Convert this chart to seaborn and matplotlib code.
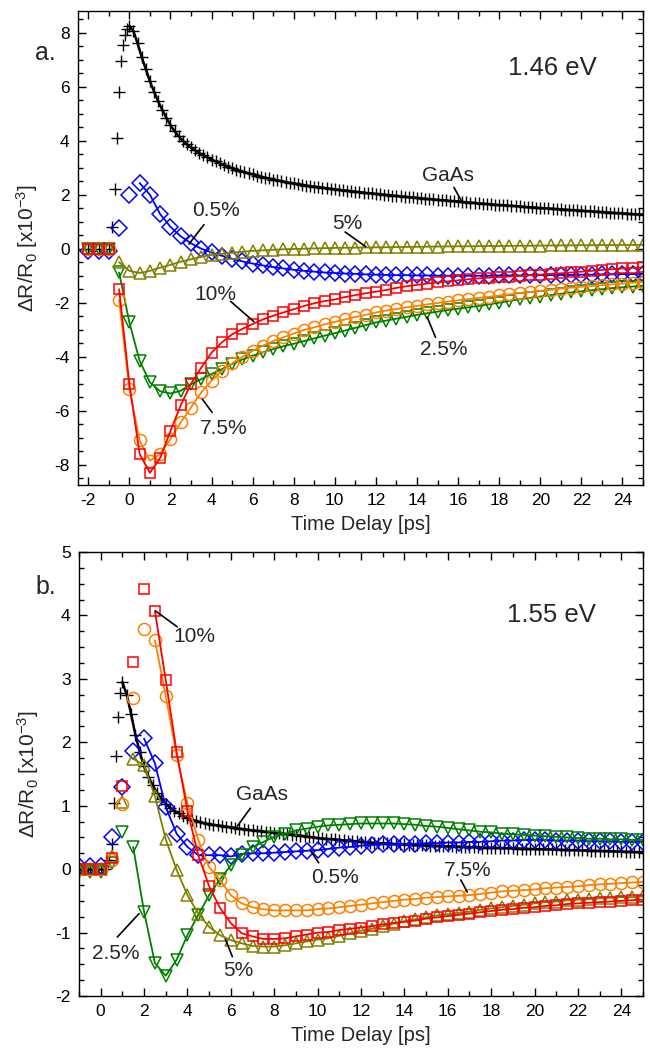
import numpy as np
import matplotlib
matplotlib.use("Agg")
import matplotlib.pyplot as plt
from matplotlib.ticker import MultipleLocator
import seaborn as sns

# ---------------- data : panel a (1.46 eV) ----------------
# colour-coded samples, one point every 0.5 ps from -2 ps
a_start, a_step = -2.0, 0.5
a_red = [0.0, 0.0, 0.0, -1.5, -5.0, -7.6, -8.3, -7.75, -6.75, -5.8, -5.0, -4.4, -3.85, -3.47,
         -3.17, -2.97, -2.79, -2.62, -2.48, -2.36, -2.24, -2.12, -2.02, -1.94, -1.88, -1.79,
         -1.72, -1.65, -1.59, -1.53, -1.45, -1.39, -1.34, -1.29, -1.25, -1.21, -1.17, -1.13,
         -1.10, -1.07, -1.05, -1.03, -1.01, -0.98, -0.96, -0.93, -0.91, -0.88, -0.85, -0.82,
         -0.79, -0.76, -0.73, -0.71, -0.69]
a_orange = [0.0, 0.0, 0.0, -1.9, -5.2, -7.1, -7.85, -7.6, -7.05, -6.43, -5.88, -5.32, -4.89,
            -4.52, -4.25, -4.0, -3.78, -3.59, -3.42, -3.28, -3.14, -3.01, -2.91, -2.80, -2.71,
            -2.62, -2.53, -2.45, -2.36, -2.29, -2.23, -2.17, -2.12, -2.06, -2.01, -1.96, -1.91,
            -1.87, -1.82, -1.78, -1.73, -1.69, -1.64, -1.60, -1.56, -1.52, -1.48, -1.44, -1.41,
            -1.38, -1.35, -1.32, -1.29, -1.26, -1.23]
a_green = [0.0, 0.0, 0.0, -0.88, -2.73, -4.15, -4.95, -5.28, -5.36, -5.26, -5.02, -4.83, -4.64,
           -4.46, -4.27, -4.10, -3.96, -3.84, -3.72, -3.61, -3.52, -3.42, -3.32, -3.22, -3.13,
           -3.03, -2.93, -2.83, -2.73, -2.66, -2.59, -2.52, -2.45, -2.39, -2.33, -2.27, -2.22,
           -2.17, -2.12, -2.06, -2.0, -1.93, -1.87, -1.82, -1.77, -1.72, -1.67, -1.62, -1.58,
           -1.54, -1.50, -1.46, -1.43, -1.40, -1.37]
a_olive = [0.02, 0.02, 0.02, -0.5, -0.82, -0.9, -0.82, -0.7, -0.6, -0.48, -0.39, -0.3, -0.23,
           -0.19, -0.15, -0.11, -0.08, -0.06, -0.04, -0.02, -0.01, 0.0, 0.01, 0.02, 0.03,
           0.035, 0.04, 0.045, 0.05, 0.055, 0.06, 0.065, 0.07, 0.075, 0.08, 0.085, 0.09, 0.09,
           0.095, 0.10, 0.10, 0.105, 0.11, 0.11, 0.115, 0.12, 0.12, 0.125, 0.13, 0.13, 0.135,
           0.135, 0.14, 0.14, 0.145]
a_blue = [-0.08, -0.1, -0.08, 0.75, 2.0, 2.43, 2.0, 1.28, 0.81, 0.46, 0.2, 0.0, -0.14, -0.26,
          -0.37, -0.47, -0.55, -0.62, -0.68, -0.73, -0.78, -0.82, -0.85, -0.88, -0.90, -0.92,
          -0.93, -0.95, -0.96, -0.97, -0.98, -0.98, -0.99, -0.99, -1.0, -1.0, -1.0, -1.0, -1.0,
          -1.0, -0.99, -0.99, -0.99, -0.98, -0.98, -0.98, -0.97, -0.97, -0.96, -0.96, -0.95,
          -0.95, -0.94, -0.94, -0.93]

# GaAs reference: rise (irregular delays) then decay sampled every 0.2 ps from 0 ps
a_gaas_rise_t = [-2.0, -1.5, -1.0, -0.85, -0.7, -0.6, -0.5, -0.4, -0.3, -0.2, -0.1]
a_gaas_rise = [0.0, 0.0, 0.0, 0.8, 2.2, 4.1, 5.8, 6.95, 7.55, 7.9, 8.15]
a_gaas_decay = [8.25, 8.05, 7.60, 7.10, 6.65, 6.20, 5.82, 5.46, 5.14, 4.85,
                4.58, 4.35, 4.16, 4.00, 3.86, 3.75, 3.64, 3.54, 3.46, 3.38,
                3.30, 3.23, 3.16, 3.10, 3.04, 2.98, 2.93, 2.88, 2.83, 2.79,
                2.75, 2.71, 2.67, 2.63, 2.60, 2.56, 2.53, 2.50, 2.47, 2.44,
                2.42, 2.39, 2.37, 2.34, 2.32, 2.30, 2.28, 2.26, 2.24, 2.22,
                2.20, 2.18, 2.16, 2.15, 2.13, 2.11, 2.10, 2.08, 2.06, 2.05,
                2.03, 2.02, 2.00, 1.99, 1.97, 1.96, 1.94, 1.93, 1.91, 1.90,
                1.88, 1.87, 1.85, 1.84, 1.83, 1.81, 1.80, 1.79, 1.77, 1.76,
                1.75, 1.73, 1.72, 1.71, 1.70, 1.68, 1.67, 1.66, 1.65, 1.63,
                1.62, 1.61, 1.60, 1.59, 1.58, 1.57, 1.55, 1.54, 1.53, 1.52,
                1.51, 1.50, 1.49, 1.48, 1.47, 1.46, 1.45, 1.44, 1.43, 1.42,
                1.41, 1.40, 1.39, 1.38, 1.37, 1.36, 1.35, 1.34, 1.33, 1.32,
                1.31, 1.30, 1.29, 1.28, 1.27, 1.26]

# ---------------- data : panel b (1.55 eV) ----------------
b_start, b_step = -1.0, 0.5
b_red = [0.0, 0.0, 0.0, 0.18, 1.31, 3.27, 4.42, 4.07, 2.98, 1.85, 0.92, 0.22, -0.27, -0.61,
         -0.85, -1.01, -1.06, -1.10, -1.10, -1.09, -1.06, -1.03, -1.0, -0.99, -0.96, -0.94,
         -0.92, -0.90, -0.87, -0.85, -0.83, -0.81, -0.78, -0.76, -0.74, -0.72, -0.70, -0.68,
         -0.66, -0.64, -0.63, -0.61, -0.60, -0.58, -0.57, -0.55, -0.54, -0.53, -0.52, -0.51,
         -0.50, -0.49, -0.48]
b_orange = [0.0, 0.0, 0.0, 0.14, 1.03, 2.70, 3.79, 3.61, 2.73, 1.80, 1.04, 0.46, 0.03, -0.17,
            -0.41, -0.54, -0.60, -0.63, -0.65, -0.65, -0.65, -0.65, -0.63, -0.62, -0.60, -0.58,
            -0.56, -0.54, -0.52, -0.50, -0.48, -0.47, -0.45, -0.44, -0.43, -0.42, -0.41, -0.39,
            -0.37, -0.35, -0.34, -0.33, -0.32, -0.30, -0.29, -0.28, -0.27, -0.25, -0.24, -0.23,
            -0.22, -0.21, -0.20]
b_green = [-0.05, -0.05, -0.05, 0.1, 0.58, 0.35, -0.67, -1.48, -1.68, -1.43, -1.04, -0.72,
           -0.41, -0.16, 0.06, 0.22, 0.35, 0.43, 0.51, 0.56, 0.61, 0.64, 0.67, 0.69, 0.70,
           0.71, 0.72, 0.72, 0.72, 0.72, 0.71, 0.70, 0.68, 0.67, 0.65, 0.63, 0.61, 0.59, 0.58,
           0.56, 0.55, 0.54, 0.53, 0.52, 0.51, 0.50, 0.49, 0.48, 0.48, 0.47, 0.47, 0.46, 0.46]
b_olive = [0.0, 0.0, 0.0, 0.2, 1.06, 1.74, 1.64, 1.15, 0.47, -0.01, -0.41, -0.70, -0.91, -1.04,
           -1.12, -1.17, -1.21, -1.22, -1.22, -1.20, -1.17, -1.14, -1.11, -1.09, -1.05, -1.01,
           -0.97, -0.94, -0.90, -0.86, -0.82, -0.79, -0.76, -0.73, -0.71, -0.69, -0.67, -0.64,
           -0.62, -0.60, -0.58, -0.56, -0.54, -0.52, -0.51, -0.49, -0.48, -0.47, -0.46, -0.45,
           -0.44, -0.44, -0.43]
b_blue = [0.05, 0.05, 0.05, 0.51, 1.30, 1.87, 2.06, 1.67, 0.98, 0.56, 0.35, 0.22, 0.22, 0.22,
          0.20, 0.24, 0.25, 0.25, 0.26, 0.27, 0.28, 0.29, 0.30, 0.32, 0.34, 0.35, 0.37, 0.38,
          0.39, 0.39, 0.40, 0.40, 0.41, 0.41, 0.42, 0.42, 0.43, 0.43, 0.44, 0.45, 0.45, 0.46,
          0.46, 0.46, 0.45, 0.45, 0.45, 0.44, 0.44, 0.44, 0.43, 0.43, 0.43]

b_gaas_rise_t = [-1.0, -0.9, -0.8, -0.7, -0.6, -0.5, -0.4, -0.3, -0.2, -0.1, 0.0, 0.1, 0.2,
                 0.3, 0.4, 0.5, 0.6, 0.7, 0.8, 0.9]
b_gaas_rise = [0.0, 0.0, 0.0, 0.0, 0.0, 0.0, 0.0, 0.0, 0.0, 0.0, 0.0, 0.0, 0.0,
               0.05, 0.15, 0.4, 1.05, 1.78, 2.4, 2.77]
# decay every 0.2 ps from 1.0 ps
b_gaas_decay = [2.95, 2.75, 2.45, 2.12, 1.85, 1.62, 1.46, 1.32, 1.20, 1.11,
                1.03, 0.97, 0.92, 0.88, 0.84, 0.81, 0.78, 0.76, 0.74, 0.72,
                0.71, 0.70, 0.69, 0.68, 0.67, 0.66, 0.65, 0.64, 0.63, 0.62,
                0.61, 0.605, 0.60, 0.59, 0.58, 0.57, 0.565, 0.56, 0.55, 0.545,
                0.535, 0.53, 0.52, 0.51, 0.50, 0.49, 0.485, 0.48, 0.475, 0.47,
                0.46, 0.455, 0.45, 0.445, 0.44, 0.43, 0.425, 0.42, 0.415, 0.41,
                0.41, 0.405, 0.40, 0.395, 0.39, 0.39, 0.385, 0.38, 0.38, 0.375,
                0.375, 0.37, 0.37, 0.365, 0.36, 0.36, 0.36, 0.355, 0.355, 0.35,
                0.35, 0.345, 0.345, 0.34, 0.34, 0.34, 0.335, 0.335, 0.33, 0.33,
                0.33, 0.325, 0.325, 0.32, 0.32, 0.32, 0.315, 0.315, 0.31, 0.31,
                0.31, 0.305, 0.305, 0.30, 0.30, 0.30, 0.295, 0.295, 0.29, 0.29,
                0.29, 0.285, 0.285, 0.28, 0.28, 0.28, 0.275, 0.275, 0.27, 0.27,
                0.27]

# fitted curves start at these delays [ps]
a_fit_start = {"0.5%": 0.5, "2.5%": -0.5, "5%": -0.5, "7.5%": -0.5, "10%": -0.5}
b_fit_start = {"0.5%": 2.0, "2.5%": 1.5, "5%": 1.5, "7.5%": 2.5, "10%": 2.5}

# ---------------- style ----------------
sns.set_style("ticks")
plt.rcParams["font.family"] = ["Liberation Sans", "DejaVu Sans"]
plt.rcParams["mathtext.fontset"] = "custom"
plt.rcParams["mathtext.rm"] = "Liberation Sans"
plt.rcParams["mathtext.it"] = "Liberation Sans:italic"
plt.rcParams["axes.unicode_minus"] = False

series_style = {
    "0.5%": dict(color="#0000ff", marker="D", ms=8.3),
    "2.5%": dict(color="#008000", marker="v", ms=9.3),
    "5%": dict(color="#808000", marker="^", ms=9.3),
    "7.5%": dict(color="#ff8000", marker="o", ms=8.7),
    "10%": dict(color="#ff0000", marker="s", ms=7.8),
}
order = ["0.5%", "2.5%", "5%", "7.5%", "10%"]


def draw_series(ax, t, y, key, t_fit):
    st = series_style[key]
    t = np.asarray(t)
    y = np.asarray(y)
    sns.lineplot(x=t, y=y, ax=ax, linestyle="", marker=st["marker"], markersize=st["ms"],
                 markerfacecolor="none", markeredgecolor=st["color"], markeredgewidth=1.1,
                 color=st["color"], estimator=None, sort=False, legend=False)
    m = t >= t_fit - 1e-9
    sns.lineplot(x=t[m], y=y[m], ax=ax, color=st["color"], lw=1.3,
                 estimator=None, sort=False, legend=False)


def draw_gaas(ax, t_rise, y_rise, t0, decay):
    t_dec = t0 + 0.2 * np.arange(len(decay))
    t_all = np.concatenate([t_rise, t_dec])
    y_all = np.concatenate([y_rise, decay])
    sns.lineplot(x=t_all, y=y_all, ax=ax, linestyle="", marker="+", markersize=8,
                 markeredgecolor="black", markeredgewidth=1.0, color="black",
                 estimator=None, sort=False, legend=False)
    sns.lineplot(x=t_dec, y=np.asarray(decay), ax=ax, color="black", lw=1.8,
                 estimator=None, sort=False, legend=False)


def style_axes(ax, xlim, ylim, ymaj, ymin):
    ax.set_xlim(*xlim)
    ax.set_ylim(*ylim)
    ax.xaxis.set_major_locator(MultipleLocator(2))
    ax.xaxis.set_minor_locator(MultipleLocator(1))
    ax.yaxis.set_major_locator(MultipleLocator(ymaj))
    ax.yaxis.set_minor_locator(MultipleLocator(ymin))
    ax.tick_params(which="both", direction="in", top=True, right=True,
                   labelsize=12.5, width=1.0, colors="black")
    ax.tick_params(which="major", length=6, pad=6)
    ax.tick_params(which="minor", length=3.5)
    for sp in ax.spines.values():
        sp.set_linewidth(1.0)
        sp.set_color("black")
    ax.set_xlabel("Time Delay [ps]", fontsize=14.5, labelpad=5)
    ax.set_ylabel(r"ΔR/R$_0$ [x10$^{-3}$]", fontsize=15)
    ax.yaxis.set_label_coords(-0.068, 0.5)


def leader(ax, text, xt, yt, x1, y1, x2, y2, fs=15):
    ax.text(xt, yt, text, fontsize=fs, ha="center", va="center")
    ax.plot([x1, x2], [y1, y2], color="black", lw=1.2)


fig = plt.figure(figsize=(6.5, 10.51), dpi=100)
ax_a = fig.add_axes([0.120, 0.5385, 0.8692, 0.4510])
ax_b = fig.add_axes([0.1215, 0.0523, 0.8677, 0.4225])

# ---- panel a ----
draw_gaas(ax_a, a_gaas_rise_t, a_gaas_rise, 0.0, a_gaas_decay)
a_data = {"0.5%": a_blue, "2.5%": a_green, "5%": a_olive, "7.5%": a_orange, "10%": a_red}
for key in order:
    vals = a_data[key]
    t = a_start + a_step * np.arange(len(vals))
    draw_series(ax_a, t, vals, key, a_fit_start[key])
style_axes(ax_a, (-2.5, 25), (-8.75, 8.8), 2, 0.5)

leader(ax_a, "GaAs", 15.5, 2.72, 15.8, 2.27, 16.2, 1.72)
leader(ax_a, "5%", 10.6, 0.95, 10.5, 0.62, 11.5, 0.08)
leader(ax_a, "0.5%", 4.2, 1.41, 3.63, 0.89, 2.9, 0.17)
leader(ax_a, "10%", 4.2, -1.7, 4.93, -1.95, 6.06, -2.7)
leader(ax_a, "7.5%", 4.6, -6.65, 4.03, -6.06, 3.55, -5.57)
leader(ax_a, "2.5%", 15.3, -3.75, 14.9, -3.28, 14.5, -2.54)
ax_a.text(20.6, 6.7, "1.46 eV", fontsize=18.5, ha="center", va="center")

# ---- panel b ----
draw_gaas(ax_b, b_gaas_rise_t, b_gaas_rise, 1.0, b_gaas_decay)
b_data = {"0.5%": b_blue, "2.5%": b_green, "5%": b_olive, "7.5%": b_orange, "10%": b_red}
for key in order:
    vals = b_data[key]
    t = b_start + b_step * np.arange(len(vals))
    draw_series(ax_b, t, vals, key, b_fit_start[key])
style_axes(ax_b, (-1, 25), (-2, 5), 1, 0.25)

leader(ax_b, "10%", 4.3, 3.66, 3.53, 3.82, 2.53, 4.07)
leader(ax_b, "GaAs", 7.45, 1.17, 6.9, 0.96, 6.3, 0.68)
leader(ax_b, "0.5%", 10.8, -0.13, 10.05, 0.1, 9.7, 0.28)
leader(ax_b, "7.5%", 16.9, -0.02, 16.6, -0.17, 16.9, -0.36)
leader(ax_b, "2.5%", 0.7, -1.33, 0.77, -1.07, 1.77, -0.7)
leader(ax_b, "5%", 6.35, -1.6, 6.07, -1.38, 5.76, -1.11)
ax_b.text(20.8, 4.0, "1.55 eV", fontsize=18.5, ha="center", va="center")

fig.text(35 / 650, 1 - 53 / 1051, "a.", fontsize=18, ha="left", va="center")
fig.text(35 / 650, 1 - 587 / 1051, "b.", fontsize=18, ha="left", va="center")

fig.savefig("out.png", dpi=100)
